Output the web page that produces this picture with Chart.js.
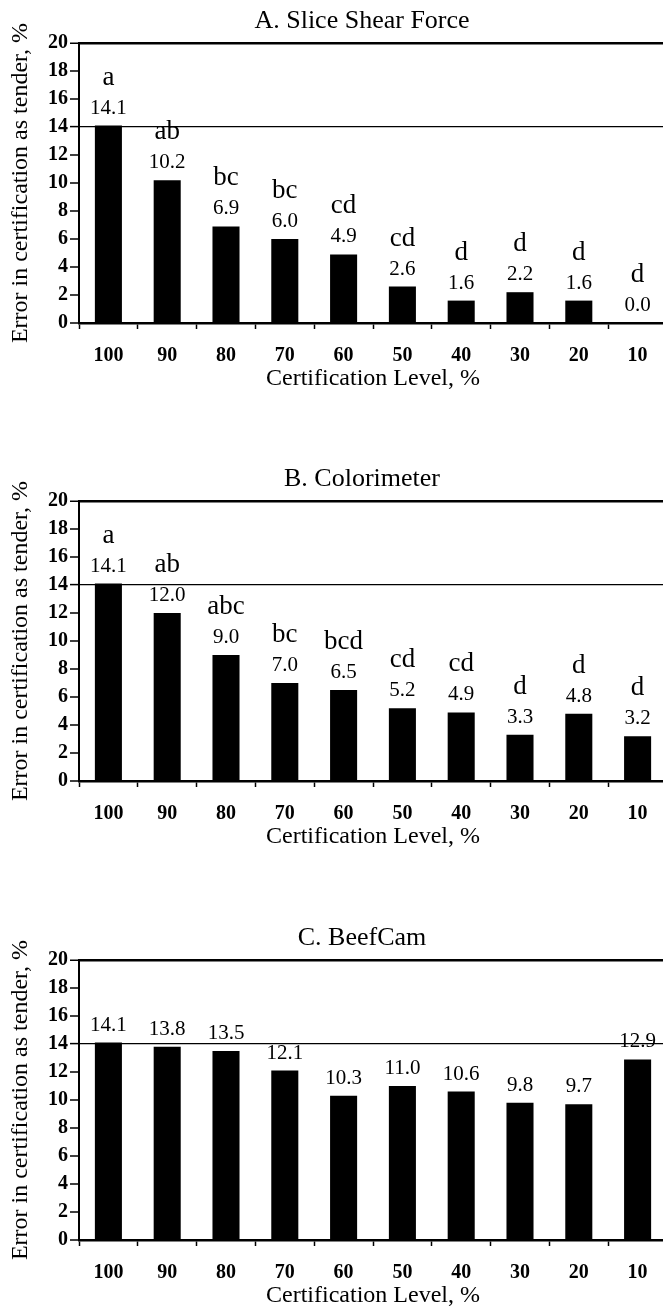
<!DOCTYPE html>
<html><head><meta charset="utf-8">
<script src="https://cdn.jsdelivr.net/npm/chart.js@4.4.0/dist/chart.umd.min.js"></script>
<style>
html,body{margin:0;padding:0;background:#fff;width:663px;height:1313px;overflow:hidden;position:relative;}
canvas{position:absolute;left:0;}
</style></head><body>
<canvas id="cA" width="670" height="393" style="top:0px"></canvas>
<canvas id="cB" width="670" height="393" style="top:458px"></canvas>
<canvas id="cC" width="670" height="393" style="top:917px"></canvas>
<script>
const categories = ['100','90','80','70','60','50','40','30','20','10'];
const valuesA = [14.1,10.2,6.9,6.0,4.9,2.6,1.6,2.2,1.6,0.0];
const lettersA = ['a','ab','bc','bc','cd','cd','d','d','d','d'];
const valuesB = [14.1,12.0,9.0,7.0,6.5,5.2,4.9,3.3,4.8,3.2];
const lettersB = ['a','ab','abc','bc','bcd','cd','cd','d','d','d'];
const valuesC = [14.1,13.8,13.5,12.1,10.3,11.0,10.6,9.8,9.7,12.9];
const lettersC = [];
const yTicks = [0,2,4,6,8,10,12,14,16,18,20];
const titles = ['A. Slice Shear Force','B. Colorimeter','C. BeefCam'];
const xTitle = 'Certification Level, %';
const yTitle = 'Error in certification as tender, %';
const refLine = 14;

const FONT = '"Liberation Serif", "Times New Roman", serif';

const labelPlugin = {
  id: 'barLabels',
  afterDatasetsDraw(chart, args, opts) {
    const ctx = chart.ctx;
    const meta = chart.getDatasetMeta(0);
    const ds = chart.data.datasets[0];
    ctx.save();
    ctx.fillStyle = '#000';
    ctx.textAlign = 'center';
    ctx.textBaseline = 'alphabetic';
    meta.data.forEach((bar, i) => {
      const v = ds.data[i];
      const yb = bar.y - 12;
      ctx.font = '21px ' + FONT;
      ctx.fillText(v.toFixed(1), bar.x, yb);
      const L = opts.letters[i];
      if (L) { ctx.font = '27px ' + FONT; ctx.fillText(L, bar.x, yb - 29); }
    });
    ctx.font = '26px ' + FONT;
    ctx.textBaseline = 'middle';
    ctx.fillText(opts.title, chart.chartArea.left + 283, chart.chartArea.top - 22);
    ctx.restore();
  }
};

function makeChart(id, values, letters, title) {
  return new Chart(document.getElementById(id), {
    type: 'bar',
    data: {
      labels: categories,
      datasets: [{ data: values, backgroundColor: '#000', borderWidth: 0,
                   barPercentage: 0.46, categoryPercentage: 1.0 }]
    },
    options: {
      responsive: false,
      animation: false,
      layout: { padding: { top: 43, right: 3, left: 0, bottom: 0 } },
      plugins: {
        legend: { display: false },
        tooltip: { enabled: false },
        title: { display: false },
        barLabels: { letters: letters, title: title }
      },
      scales: {
        x: {
          grid: { display: true, drawOnChartArea: false, offset: true, tickLength: 6,
                  tickColor: '#000', tickWidth: 1.5, color: '#000' },
          border: { display: true, color: '#000', width: 2.5 },
          ticks: { color: '#000', font: { family: FONT, size: 20, weight: 'bold' },
                   padding: 15, autoSkip: false, maxRotation: 0 },
          title: { display: true, text: xTitle, color: '#000',
                   font: { family: FONT, size: 24 }, padding: { top: 0, bottom: 0 } },
          afterFit: s => { s.height = 70; }
        },
        y: {
          min: 0, max: 20,
          afterBuildTicks: s => { s.ticks = yTicks.map(v => ({ value: v })); },
          grid: {
            drawOnChartArea: true,
            color: c => (c.tick && (c.tick.value === 20 || c.tick.value === refLine)) ? '#000' : 'rgba(0,0,0,0)',
            lineWidth: c => c.tick ? (c.tick.value === 20 ? 2.5 : (c.tick.value === refLine ? 1.2 : 0)) : 0,
            tickColor: '#000', tickWidth: 1.5, tickLength: 9
          },
          border: { display: true, color: '#000', width: 2 },
          ticks: { color: '#000', font: { family: FONT, size: 20, weight: 'bold' }, padding: 2 },
          title: { display: true, text: yTitle, color: '#000',
                   font: { family: FONT, size: 24 }, padding: { top: 6, bottom: 0 } },
          afterFit: s => { s.width = 79; }
        }
      }
    },
    plugins: [labelPlugin]
  });
}

makeChart('cA', valuesA, lettersA, titles[0]);
makeChart('cB', valuesB, lettersB, titles[1]);
makeChart('cC', valuesC, lettersC, titles[2]);
</script>
</body></html>
